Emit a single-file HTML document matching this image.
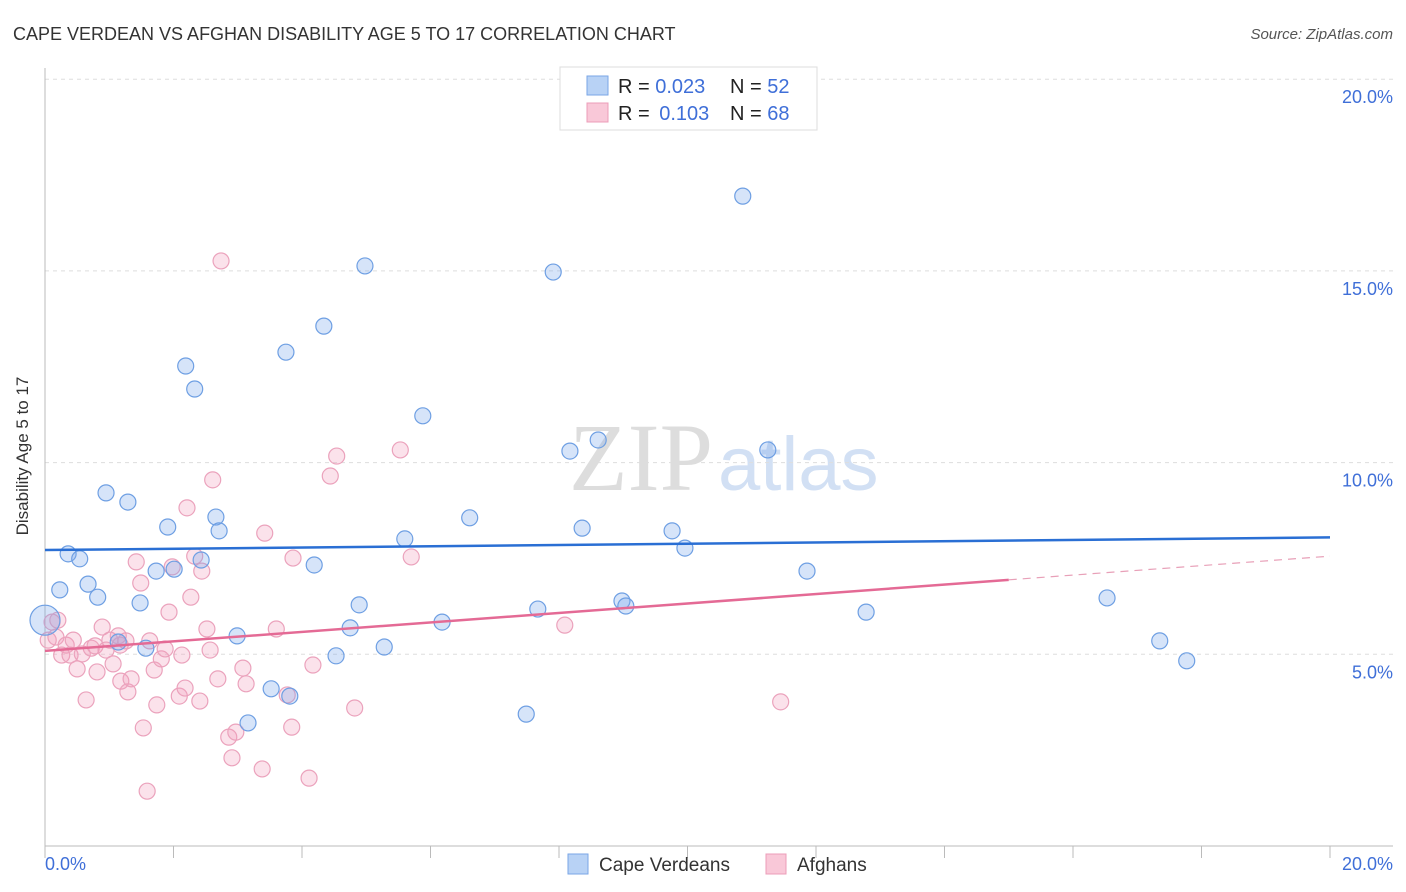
<!DOCTYPE html>
<html><head><meta charset="utf-8"><style>
body{margin:0;background:#fff;font-family:"Liberation Sans",sans-serif;}
svg{display:block}
</style></head><body>
<svg id="chart" width="1406" height="892">
<text x="13" y="40" font-size="18" fill="#333">CAPE VERDEAN VS AFGHAN DISABILITY AGE 5 TO 17 CORRELATION CHART</text>
<text x="1393" y="39" font-size="15" fill="#555" text-anchor="end" font-style="italic">Source: ZipAtlas.com</text>
<text x="713" y="490" font-size="96" fill="#ddd" text-anchor="end" font-family="Liberation Serif,serif">ZIP</text>
<text x="718" y="490" font-size="76" fill="#d2e0f4">atlas</text>
<g id="grid"></g>
<g id="axes"></g>
<g id="marks"></g>
<text x="28" y="456" font-size="17" fill="#333" text-anchor="middle" transform="rotate(-90 28 456)">Disability Age 5 to 17</text>
<g>
<rect x="560" y="67" width="257" height="63" fill="#fff" stroke="#ddd"/>
<rect x="587" y="76" width="21" height="19" fill="#b8d2f5" stroke="#7aa6e6"/>
<rect x="587" y="103" width="21" height="19" fill="#f9c8d8" stroke="#ec9db8"/>
<text x="618" y="93" font-size="20" fill="#222">R = <tspan fill="#3f6fd8">0.023</tspan></text>
<text x="730" y="93" font-size="20" fill="#222">N = <tspan fill="#3f6fd8">52</tspan></text>
<text x="618" y="120" font-size="20" fill="#222">R = <tspan fill="#3f6fd8" dx="4">0.103</tspan></text>
<text x="730" y="120" font-size="20" fill="#222">N = <tspan fill="#3f6fd8">68</tspan></text>
</g>
<g>
<rect x="568" y="854" width="20" height="20" fill="#b8d2f5" stroke="#7aa6e6"/>
<text x="599" y="871" font-size="19" fill="#333">Cape Verdeans</text>
<rect x="766" y="854" width="20" height="20" fill="#f9c8d8" stroke="#ec9db8"/>
<text x="797" y="871" font-size="19" fill="#333">Afghans</text>
</g>
</svg>
<script>
const yTicks=[5,10,15,20];
const yTickLabels=["5.0%","10.0%","15.0%","20.0%"];
const xEndLabels=["0.0%","20.0%"];
const blueX=[0,0.23,0.36,0.54,0.67,0.82,0.95,1.14,1.29,1.48,1.57,1.73,1.91,2.01,2.19,2.33,2.43,2.66,2.71,2.99,3.16,3.52,3.75,3.81,4.19,4.34,4.53,4.75,4.89,4.98,5.28,5.60,5.88,6.18,6.61,7.49,7.67,7.91,8.17,8.36,8.61,8.98,9.04,9.76,9.96,10.86,11.25,11.86,12.78,16.53,17.35,17.77];
const blueY=[5.89,6.68,7.62,7.49,6.83,6.49,9.21,5.32,8.97,6.34,5.16,7.17,8.32,7.22,12.52,11.92,7.46,8.58,8.22,5.48,3.21,4.10,12.88,3.91,7.33,13.56,4.96,5.69,6.29,15.13,5.19,8.01,11.22,5.84,8.56,3.44,6.18,14.97,10.30,8.29,10.59,6.39,6.26,8.22,7.77,16.95,10.33,7.17,6.10,6.47,5.35,4.83];
const pinkX=[0.05,0.11,0.17,0.26,0.33,0.39,0.44,0.50,0.58,0.64,0.72,0.78,0.81,0.89,0.95,1.01,1.06,1.14,1.18,1.26,1.29,1.34,1.42,1.49,1.53,1.59,1.63,1.70,1.74,1.81,1.87,1.93,1.98,2.09,2.13,2.18,2.21,2.27,2.33,2.41,2.44,2.52,2.57,2.61,2.69,2.74,2.86,2.91,2.97,3.08,3.13,3.38,3.42,3.60,3.77,3.84,3.86,4.11,4.17,4.44,4.54,4.82,5.53,5.70,8.09,11.45,0.20,1.17];
const pinkY=[5.37,5.84,5.45,4.98,5.24,4.98,5.37,4.62,5.01,3.81,5.16,5.22,4.54,5.71,5.11,5.37,4.75,5.48,4.30,5.35,4.02,4.36,7.41,6.86,3.08,1.43,5.35,4.59,3.68,4.88,5.14,6.10,7.28,3.91,4.98,4.12,8.82,6.49,7.56,3.78,7.17,5.66,5.11,9.55,4.36,15.26,2.84,2.30,2.97,4.64,4.23,2.01,8.16,5.66,3.94,3.10,7.51,1.77,4.72,9.65,10.17,3.60,10.33,7.54,5.76,3.76,5.89,5.24];
const blueTrend=[7.72,8.05];
const pinkTrend=[5.09,7.56];
const pinkSolidEnd=15.0;
const NS="http://www.w3.org/2000/svg";
const X0=45,X1=1330,Y0=846,YPER=191.7/5;
const sx=v=>X0+(X1-X0)*v/20;
const sy=v=>Y0-v*YPER;
function mk(t,a,p){const e=document.createElementNS(NS,t);for(const k in a)e.setAttribute(k,a[k]);p.appendChild(e);return e;}
const grid=document.getElementById('grid'),axes=document.getElementById('axes'),marks=document.getElementById('marks');
yTicks.forEach((t,i)=>{
 const l=mk('line',{x1:X0,x2:1393,y1:sy(t),y2:sy(t),stroke:'#ddd','stroke-dasharray':'4,4'},grid);
 
 
 const tx=mk('text',{x:1393,y:sy(t)+24,'font-size':18,fill:'#3f6fd8','text-anchor':'end'},grid);
 tx.textContent=yTickLabels[i];
 
 
});
const ax=mk('line',{x1:X0,x2:1393,y1:Y0,y2:Y0,stroke:'#bbb'},axes);


const ay=mk('line',{x1:X0,x2:X0,y1:68,y2:Y0,stroke:'#bbb'},axes);


for(let i=0;i<=10;i++){const t=mk('line',{x1:sx(i*2),x2:sx(i*2),y1:Y0,y2:Y0+12,stroke:'#bbb'},axes);
 
 }
const xl=mk('text',{x:45,y:870,'font-size':18,fill:'#3f6fd8'},axes);xl.textContent=xEndLabels[0];


const xr=mk('text',{x:1393,y:870,'font-size':18,fill:'#3f6fd8','text-anchor':'end'},axes);xr.textContent=xEndLabels[1];


pinkX.forEach((x,i)=>{const c=mk('circle',{cx:sx(x),cy:sy(pinkY[i]),r:8,fill:'rgba(243,160,188,0.3)',stroke:'#eba2bc','stroke-width':1.2},marks);
 
 });
blueX.forEach((x,i)=>{const c=mk('circle',{cx:sx(x),cy:sy(blueY[i]),r:i===0?15:8,fill:'rgba(120,165,235,0.3)',stroke:'#6e9fe3','stroke-width':1.2},marks);
 
 });
const bt=mk('line',{x1:sx(0),x2:sx(20),y1:sy(blueTrend[0]),y2:sy(blueTrend[1]),stroke:'#2a6fd4','stroke-width':2.5},marks);


const pm=pinkTrend[0]+(pinkTrend[1]-pinkTrend[0])*pinkSolidEnd/20;
const pt=mk('line',{x1:sx(0),x2:sx(pinkSolidEnd),y1:sy(pinkTrend[0]),y2:sy(pm),stroke:'#e46a95','stroke-width':2.5},marks);


const pd=mk('line',{x1:sx(pinkSolidEnd),x2:sx(20),y1:sy(pm),y2:sy(pinkTrend[1]),stroke:'#e8a0b8','stroke-width':1.2,'stroke-dasharray':'8,6'},marks);


</script>
</body></html>
